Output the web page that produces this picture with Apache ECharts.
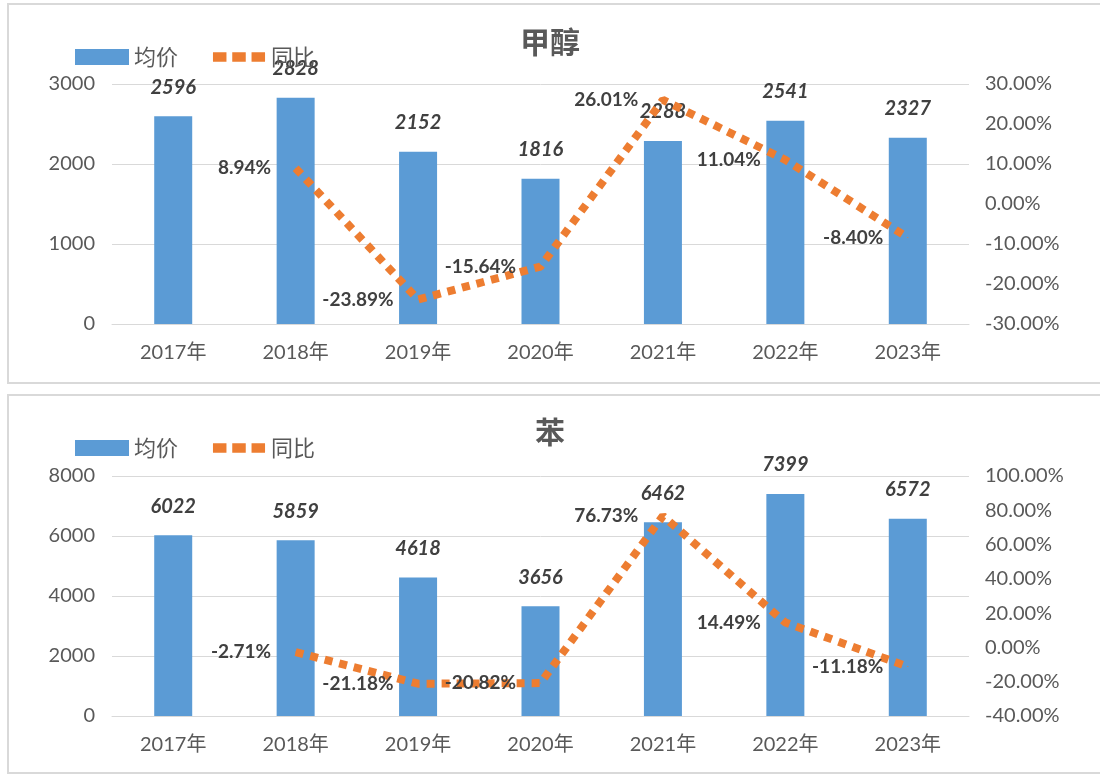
<!DOCTYPE html>
<html>
<head>
<meta charset="utf-8">
<script src="https://cdn.jsdelivr.net/npm/echarts@6/dist/echarts.min.js"></script>
<style>
  html, body { margin: 0; padding: 0; background: #fff; overflow: hidden; }
  body { width: 1100px; height: 774px; position: relative; }
  .panel { position: absolute; border: 2px solid #d9d9d9; box-sizing: border-box; }
  .chart { position: absolute; left: 0; width: 1100px; }
</style>
</head>
<body>
<div class="panel" style="left:7px; top:3px; width:1110px; height:381px;"></div>
<div class="panel" style="left:7px; top:394px; width:1110px; height:380px;"></div>
<div id="chart1" class="chart" style="top:0; height:389px;"></div>
<div id="chart2" class="chart" style="top:389px; height:385px;"></div>
<script>
// 年份
var years = ['2017年', '2018年', '2019年', '2020年', '2021年', '2022年', '2023年'];

// 甲醇
var methanolPrice = [2596, 2828, 2152, 1816, 2288, 2541, 2327];
var methanolYoy = [null, 8.94, -23.89, -15.64, 26.01, 11.04, -8.40];
var methanolPriceAxis = [0, 3000, 1000];   // min, max, interval
var methanolYoyAxis = [-30, 30, 10];

// 苯
var benzenePrice = [6022, 5859, 4618, 3656, 6462, 7399, 6572];
var benzeneYoy = [null, -2.71, -21.18, -20.82, 76.73, 14.49, -11.18];
var benzenePriceAxis = [0, 8000, 2000];
var benzeneYoyAxis = [-40, 100, 20];

var FONT = 'Lato, "Noto Sans CJK SC", sans-serif';
var CJK = '"Noto Sans CJK SC", sans-serif';
var BLUE = '#5B9BD5';
var ORANGE = '#ED7D31';
var TEXT = '#595959';
var LABEL = '#404040';

function buildOption(title, price, yoy, priceAxis, yoyAxis, layout) {
  return {
    animation: false,
    title: {
      text: title,
      left: 'center',
      top: layout.titleTop,
      textStyle: { fontFamily: CJK, fontSize: 30, fontWeight: 'bold', color: TEXT }
    },
    legend: {
      left: 70,
      top: layout.legendTop,
      itemWidth: 54,
      itemHeight: 16,
      itemGap: 34,
      textStyle: { fontFamily: CJK, fontSize: 22, color: TEXT },
      data: [
        { name: '均价', icon: 'rect' },
        // 三个小方块，前两个 moveTo 只用来撑开包围盒
        { name: '同比', icon: 'path://M0,0M56,16M1,3h14v10h-14zM21,3h14v10h-14zM41,3h14v10h-14z' }
      ]
    },
    grid: {
      left: 112,
      right: 131,
      top: layout.gridTop,
      height: 240
    },
    xAxis: {
      type: 'category',
      data: years,
      axisLine: { lineStyle: { color: '#d9d9d9', width: 1 } },
      axisTick: { show: false },
      axisLabel: { fontFamily: FONT, fontSize: 20, color: TEXT, margin: 19 }
    },
    yAxis: [
      {
        type: 'value',
        min: priceAxis[0],
        max: priceAxis[1],
        interval: priceAxis[2],
        axisLine: { show: false },
        axisTick: { show: false },
        splitLine: { lineStyle: { color: '#d9d9d9', width: 1 } },
        axisLabel: {
          fontFamily: FONT, fontSize: 20, color: TEXT, margin: 17,
          formatter: function (v) { return String(v); }
        }
      },
      {
        type: 'value',
        min: yoyAxis[0],
        max: yoyAxis[1],
        interval: yoyAxis[2],
        axisLine: { show: false },
        axisTick: { show: false },
        splitLine: { show: false },
        axisLabel: {
          fontFamily: FONT, fontSize: 20, color: TEXT, margin: 16,
          formatter: function (v) { return v.toFixed(2) + '%'; }
        }
      }
    ],
    series: [
      {
        name: '均价',
        type: 'bar',
        data: price,
        barWidth: 38,
        itemStyle: { color: BLUE },
        label: {
          show: true,
          position: 'top',
          distance: 19,
          fontFamily: FONT,
          fontSize: 20,
          fontWeight: 'bold',
          fontStyle: 'italic',
          color: LABEL
        }
      },
      {
        name: '同比',
        type: 'line',
        yAxisIndex: 1,
        data: yoy,
        symbol: 'circle',
        symbolSize: 1,
        itemStyle: { color: ORANGE },
        lineStyle: { color: ORANGE, width: 8, type: [8, 7], cap: 'butt' },
        z: 5,
        label: {
          show: true,
          position: 'left',
          distance: 24,
          fontFamily: FONT,
          fontSize: 19,
          fontWeight: 'bold',
          color: LABEL,
          formatter: function (p) { return p.value.toFixed(2) + '%'; }
        }
      }
    ]
  };
}

var chart1 = echarts.init(document.getElementById('chart1'));
chart1.setOption(buildOption('甲醇', methanolPrice, methanolYoy, methanolPriceAxis, methanolYoyAxis,
  { titleTop: 22, legendTop: 41, gridTop: 84 }));

var chart2 = echarts.init(document.getElementById('chart2'));
chart2.setOption(buildOption('苯', benzenePrice, benzeneYoy, benzenePriceAxis, benzeneYoyAxis,
  { titleTop: 23, legendTop: 43, gridTop: 87 }));
</script>
</body>
</html>
